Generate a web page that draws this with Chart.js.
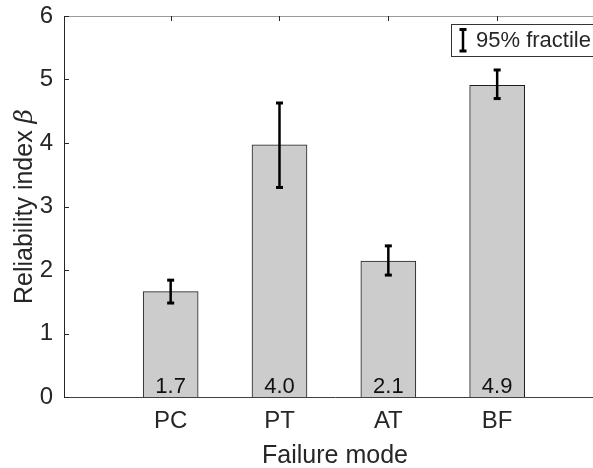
<!DOCTYPE html>
<html>
<head>
<meta charset="utf-8">
<script src="https://cdn.jsdelivr.net/npm/chart.js@4/dist/chart.umd.min.js"></script>
<style>
  html, body { margin: 0; padding: 0; overflow: hidden; background: #fff; }
  #wrap { width: 593px; height: 468px; overflow: hidden; }
</style>
</head>
<body>
<div id="wrap"><canvas id="chart" width="620" height="468"></canvas></div>
<script>
// values
const categories = ['PC', 'PT', 'AT', 'BF'];
const beta = [1.66, 3.97, 2.14, 4.91];
const fractileLow = [1.48, 3.30, 1.92, 4.70];
const fractileHigh = [1.84, 4.63, 2.38, 5.15];
const yTicks = [0, 1, 2, 3, 4, 5, 6];

const FONT = '"Liberation Sans", Arial, sans-serif';
const TEXT = '#262626';

// error bars, value labels, inward ticks, box line, legend, titles
const decorations = {
    id: 'decorations',
    afterDatasetsDraw(chart) {
        const ctx = chart.ctx;
        const x = chart.scales.x;
        const y = chart.scales.y;
        const area = chart.chartArea;
        ctx.save();

        // top box line
        ctx.strokeStyle = '#9a9a9a';
        ctx.lineWidth = 1;
        ctx.beginPath();
        ctx.moveTo(area.left, area.top + 0.5);
        ctx.lineTo(area.right, area.top + 0.5);
        ctx.stroke();

        // inward ticks
        ctx.strokeStyle = TEXT;
        ctx.beginPath();
        yTicks.forEach(v => {
            const py = Math.round(y.getPixelForValue(v)) + 0.5;
            ctx.moveTo(area.left, py);
            ctx.lineTo(area.left + 5, py);
        });
        categories.forEach((c, i) => {
            const px = Math.round(x.getPixelForValue(i + 1)) + 0.5;
            ctx.moveTo(px, area.top);
            ctx.lineTo(px, area.top + 5);
        });
        ctx.stroke();

        // value labels inside bars
        ctx.fillStyle = '#111';
        ctx.font = '22px ' + FONT;
        ctx.textAlign = 'center';
        ctx.textBaseline = 'alphabetic';
        beta.forEach((v, i) => {
            ctx.fillText(v.toFixed(1), x.getPixelForValue(i + 1), area.bottom - 4);
        });

        // 95% fractile error bars
        ctx.strokeStyle = '#000';
        ctx.fillStyle = '#000';
        ctx.lineWidth = 2.5;
        categories.forEach((c, i) => {
            const px = x.getPixelForValue(i + 1);
            const lo = y.getPixelForValue(fractileLow[i]);
            const hi = y.getPixelForValue(fractileHigh[i]);
            ctx.beginPath();
            ctx.moveTo(px, lo);
            ctx.lineTo(px, hi);
            ctx.stroke();
            ctx.fillRect(px - 3.5, lo - 1.5, 7, 3);
            ctx.fillRect(px - 3.5, hi - 1.5, 7, 3);
        });

        // legend
        ctx.fillStyle = '#fff';
        ctx.fillRect(451.5, 24.5, 200, 32);
        ctx.strokeStyle = '#333';
        ctx.lineWidth = 1;
        ctx.strokeRect(451.5, 24.5, 200, 32);
        ctx.fillStyle = '#000';
        ctx.strokeStyle = '#000';
        ctx.lineWidth = 2.5;
        ctx.beginPath();
        ctx.moveTo(463, 29);
        ctx.lineTo(463, 51);
        ctx.stroke();
        ctx.fillRect(459.5, 28, 7, 3);
        ctx.fillRect(459.5, 49.5, 7, 3);
        ctx.fillStyle = TEXT;
        ctx.font = '22px ' + FONT;
        ctx.textAlign = 'left';
        ctx.textBaseline = 'middle';
        ctx.fillText('95% fractile', 476, 41);

        // x title
        ctx.font = '25px ' + FONT;
        ctx.textAlign = 'center';
        ctx.textBaseline = 'alphabetic';
        ctx.fillText('Failure mode', (area.left + area.right) / 2, 463);

        // y title with italic beta
        const part1 = 'Reliability index ';
        const part2 = '\u03B2';
        ctx.font = '25px ' + FONT;
        const w1 = ctx.measureText(part1).width;
        ctx.font = 'italic 25px "DejaVu Serif", serif';
        const w2 = ctx.measureText(part2).width;
        ctx.translate(32, (area.top + area.bottom) / 2);
        ctx.rotate(-Math.PI / 2);
        ctx.textAlign = 'left';
        ctx.font = '25px ' + FONT;
        ctx.fillText(part1, -(w1 + w2) / 2, 0);
        ctx.font = 'italic 25px "DejaVu Serif", serif';
        ctx.fillText(part2, -(w1 + w2) / 2 + w1, 0);

        ctx.restore();
    }
};

new Chart(document.getElementById('chart'), {
    type: 'bar',
    data: {
        datasets: [{
            data: categories.map((c, i) => ({ x: i + 1, y: beta[i] })),
            backgroundColor: '#cccccc',
            borderColor: '#1f1f1f',
            borderWidth: 1,
            barThickness: 55
        }]
    },
    options: {
        responsive: false,
        animation: false,
        devicePixelRatio: 1,
        layout: { padding: { top: 16, right: 14, left: 0, bottom: 0 } },
        plugins: { legend: { display: false }, tooltip: { enabled: false } },
        scales: {
            x: {
                type: 'linear',
                offset: false,
                min: 0.02,
                max: 5,
                afterBuildTicks: s => { s.ticks = categories.map((c, i) => ({ value: i + 1 })); },
                afterFit: s => { s.height = 71; s.paddingLeft = 0; s.paddingRight = 0; },
                grid: { display: false, drawTicks: false, offset: false },
                border: { display: true, color: '#404040', width: 1 },
                ticks: {
                    callback: v => categories[v - 1] || '',
                    font: { family: FONT, size: 24 },
                    color: TEXT,
                    padding: 10,
                    maxRotation: 0
                }
            },
            y: {
                min: 0,
                max: 6,
                afterBuildTicks: s => { s.ticks = yTicks.map(v => ({ value: v })); },
                afterFit: s => { s.width = 64; s.paddingTop = 0; s.paddingBottom = 0; },
                grid: { display: false, drawTicks: false },
                border: { display: true, color: '#262626', width: 1 },
                ticks: {
                    font: { family: FONT, size: 24 },
                    color: TEXT,
                    padding: 11
                }
            }
        }
    },
    plugins: [decorations]
});
</script>
</body>
</html>
